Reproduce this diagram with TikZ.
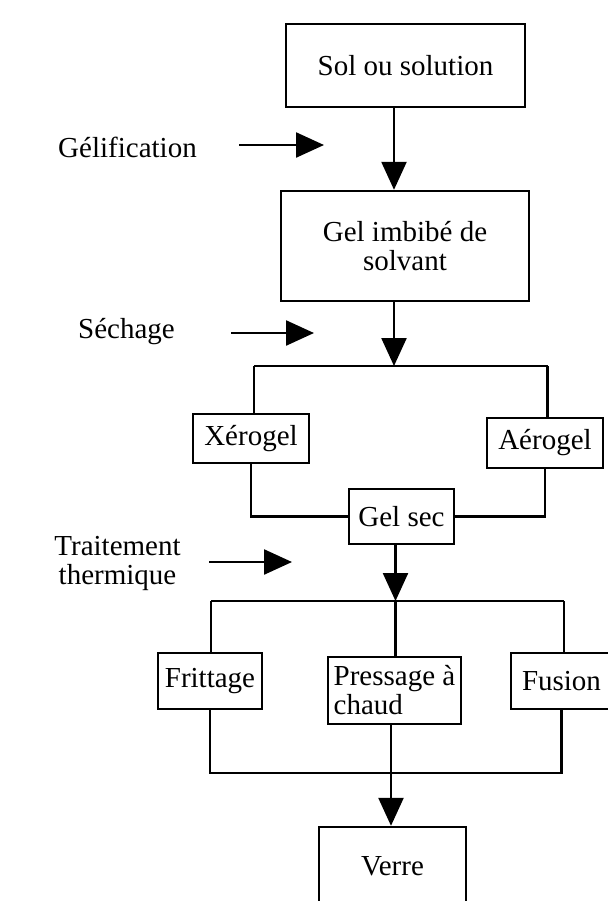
\documentclass[tikz,border=0pt]{standalone}
\usepackage{fontspec}
\setmainfont{Liberation Serif}
\usetikzlibrary{arrows.meta}
\usetikzlibrary{positioning}

\begin{document}
\begin{tikzpicture}[x=0.5pt,y=-0.5pt,line width=1.2pt,
font=\fontsize{14.5pt}{14.5pt}\selectfont]
\tikzstyle{etape}=[rectangle,draw=black,line width=1.2pt,
inner sep=0pt,align=center]
\tikzstyle{operation}=[inner sep=0pt,align=center]
\tikzstyle{fleche}=[-{Triangle[length=14pt,width=12.5pt]}]
\clip[use as bounding box] (0,0) rectangle (608,901);
% etapes du procede
\node[etape,minimum width=119.5pt,minimum height=41.5pt] (sol) at (405.5,65.5) {Sol ou solution};
\node[etape,minimum width=123.75pt,minimum height=55pt] (gel) at (405,246) {Gel imbib\'e de\\solvant};
\node[etape,minimum width=58pt,minimum height=24.5pt] (xero) at (251,438.5) {X\'erogel};
\node[etape,minimum width=58pt,minimum height=25pt] (aero) at (545,443) {A\'erogel};
\node[etape,minimum width=52.5pt,minimum height=27.5pt] (gelsec) at (401.5,516.5) {Gel sec};
\node[etape,minimum width=52pt,minimum height=28pt] (frit) at (210,681) {Frittage};
\node[etape,minimum width=66.5pt,minimum height=33.5pt,align=left] (press) at (394.5,690.5) {Pressage \`a\\ chaud};
\node[etape,minimum width=50.5pt,minimum height=28pt] (fusion) at (561.5,681) {Fusion};
\node[etape,minimum width=73.5pt,minimum height=39pt] (verre) at (392.5,866) {Verre};
% operations
\node[operation] (gelif) at (127.5,147) {G\'elification};
\node[operation] (sech) at (126.5,332) {S\'echage};
\node[operation] (trait) at (117.5,563) {Traitement\\thermique};
\coordinate (g1) at (239,145);
\coordinate (g2) at (324,145);
\coordinate (s1) at (231,333);
\coordinate (s2) at (314,333);
\coordinate (t1) at (209,562);
\coordinate (t2) at (292,562);
\draw[fleche] (g1) -- (g2);
\draw[fleche] (s1) -- (s2);
\draw[fleche] (t1) -- (t2);
% embranchements
\coordinate (sep1) at (394,366);
\coordinate (sep1g) at (254,366);
\coordinate (sep1d) at (547.5,366);
\coordinate (sep2) at (395.5,601);
\coordinate (sep2g) at (211,601);
\coordinate (sep2d) at (564,601);
\coordinate (fin) at (391,773);
\draw[fleche] (sol.south -| sep1) -- (gel.north -| sep1);
\draw[fleche] (gel.south -| sep1) -- (sep1);
\draw (sep1g) -- (sep1d);
\draw (sep1g) -- (sep1g |- xero.north);
\draw (sep1d) -- (sep1d |- aero.north);
\draw (xero.south) |- (gelsec.west);
\draw (aero.south) |- (gelsec.east);
\draw[fleche] (gelsec.south -| sep2) -- (sep2);
\draw (sep2g) -- (sep2d);
\foreach \n/\c in {frit/sep2g,press/sep2,fusion/sep2d}
  \draw (\c) -- (\c |- \n.north);
\draw (frit.south) |- (fin) -| (fusion.south);
\draw[fleche] (press.south -| fin) -- (verre.north -| fin);
\end{tikzpicture}
\end{document}
